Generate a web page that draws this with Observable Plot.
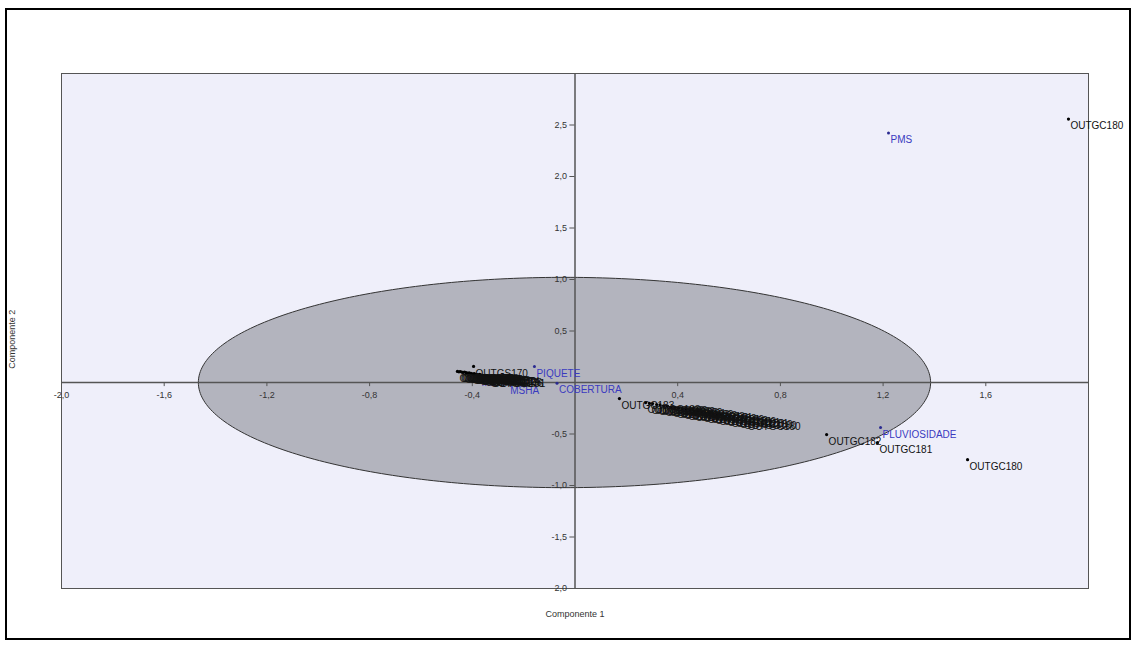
<!DOCTYPE html>
<html>
<head>
<meta charset="utf-8">
<script src="https://cdn.jsdelivr.net/npm/d3@7"></script>
<script src="https://cdn.jsdelivr.net/npm/@observablehq/plot@0.6"></script>
<style>
  html, body { margin: 0; padding: 0; background: #fff; }
  #wrap { position: relative; width: 1136px; height: 648px; overflow: hidden; }
  #border { position: absolute; left: 5px; top: 8px; width: 1122px; height: 628px; border: 2px solid #000; pointer-events: none; }
  svg { display: block; }
</style>
</head>
<body>
<div id="wrap"><div id="border"></div></div>
<script>
// Axis ticks
const xTicks = [-2.0, -1.6, -1.2, -0.8, -0.4, 0.4, 0.8, 1.2, 1.6];
const xTickLabels = ["-2,0", "-1,6", "-1,2", "-0,8", "-0,4", "0,4", "0,8", "1,2", "1,6"];
const yTicks = [2.5, 2.0, 1.5, 1.0, 0.5, -0.5, -1.0, -1.5, -2.0];
const yTickLabels = ["2,5", "2,0", "1,5", "1,0", "0,5", "-0,5", "-1,0", "-1,5", "2,0"];

// Variables (blue)
const varNames = ["MSPA", "PIQUETE", "MSHA", "COBERTURA", "PMS", "PLUVIOSIDADE"];
const varX = [-0.372, -0.158, -0.260, -0.070, 1.221, 1.190];
const varY = [0.068, 0.156, -0.010, -0.007, 2.422, -0.438];

// Observations (black)
const obsNames = [
  "OUTGC180", "OUTGC182", "OUTGC181", "OUTGC180", "OUTGC183", "OUTGS170",
  "OUTGS171", "OUTGS172", "OUTGS173", "OUTGS174", "OUTGS175", "OUTGS176", "OUTGS177",
  "OUTGS178", "OUTGS179", "OUTGS180", "OUTGS181", "OUTGS182", "OUTGS183", "OUTGC170",
  "OUTGC171", "OUTGC172", "OUTGC173", "OUTGC174", "OUTGC175", "OUTGC176", "OUTGC181",
  "OUTGC183", "OUTGC183", "OUTGC182", "OUTGC183", "OUTGC182", "OUTGC183", "OUTGC182",
  "OUTGC181", "OUTGC183", "OUTGC182", "OUTGC182", "OUTGC181", "OUTGC183", "OUTGC182",
  "OUTGC181", "OUTGC182", "OUTGC181", "OUTGC180", "OUTGC182", "OUTGC181", "OUTGC180",
  "OUTGC181", "OUTGC180", "OUTGC181", "OUTGC180", "OUTGC180", "OUTGC180"
];
const obsX = [
  1.922, 0.980, 1.178, 1.529, 0.173, -0.395,
  -0.458, -0.452, -0.447, -0.441, -0.436, -0.430, -0.424,
  -0.418, -0.412, -0.405, -0.398, -0.392, -0.385, -0.378,
  -0.371, -0.364, -0.357, -0.350, -0.343, -0.336, -0.329,
  0.275, 0.290, 0.302, 0.318, 0.331, 0.345, 0.360,
  0.374, 0.389, 0.403, 0.418, 0.433, 0.447, 0.462,
  0.478, 0.493, 0.508, 0.523, 0.538, 0.554, 0.570,
  0.586, 0.602, 0.618, 0.634, 0.650, 0.665
];
const obsY = [
  2.558, -0.506, -0.584, -0.749, -0.156, 0.156,
  0.108, 0.104, 0.107, 0.101, 0.098, 0.102, 0.095,
  0.092, 0.094, 0.088, 0.085, 0.087, 0.080, 0.077,
  0.079, 0.072, 0.068, 0.070, 0.063, 0.058, 0.055,
  -0.195, -0.203, -0.205, -0.214, -0.218, -0.226, -0.229,
  -0.238, -0.242, -0.249, -0.254, -0.262, -0.266, -0.274,
  -0.279, -0.287, -0.292, -0.298, -0.303, -0.311, -0.316,
  -0.323, -0.330, -0.337, -0.343, -0.351, -0.360
];

// Confidence ellipse parameters
const ellipseCenter = [-0.041, 0];
const ellipseRadii = [1.426, 1.021];

const vars = varNames.map((n, i) => ({name: n, x: varX[i], y: varY[i]}));
const obs = obsNames.map((n, i) => ({name: n, x: obsX[i], y: obsY[i]}));
const ellipse = d3.range(0, 360, 1).map(a => {
  const t = a * Math.PI / 180;
  return {x: ellipseCenter[0] + ellipseRadii[0] * Math.cos(t), y: ellipseCenter[1] + ellipseRadii[1] * Math.sin(t)};
});
const xt = xTicks.map((v, i) => ({v, label: xTickLabels[i]}));
const yt = yTicks.map((v, i) => ({v, label: yTickLabels[i]}));

const chart = Plot.plot({
  width: 1136,
  height: 648,
  marginLeft: 61,
  marginRight: 48,
  marginTop: 73,
  marginBottom: 60,
  style: {fontFamily: "'Liberation Sans', Arial, sans-serif", background: "transparent"},
  x: {domain: [-2, 2], axis: null},
  y: {domain: [-2, 3], axis: null},
  marks: [
    Plot.frame({fill: "#efeffa", stroke: "#555", strokeWidth: 1}),
    Plot.line(ellipse, {x: "x", y: "y", curve: "linear-closed", fill: "#b3b4be", stroke: "#333", strokeWidth: 1}),
    Plot.ruleX([0], {stroke: "#555", strokeWidth: 1.5}),
    Plot.ruleY([0], {stroke: "#555", strokeWidth: 1.5}),
    Plot.ruleX(xt, {x: "v", y1: 0, y2: -0.04, stroke: "#555", strokeWidth: 1}),
    Plot.ruleY(yt, {y: "v", x1: -0.02, x2: 0, stroke: "#555", strokeWidth: 1}),
    Plot.text(xt, {x: "v", y: 0, dy: 13, text: "label", fontSize: 9, fill: "#333"}),
    Plot.text(yt, {x: 0, y: "v", dx: -8, text: "label", textAnchor: "end", fontSize: 9, fill: "#333"}),
    Plot.dot(vars, {x: "x", y: "y", r: 1.5, fill: "#2a2a90", stroke: "none"}),
    Plot.text(vars, {x: "x", y: "y", text: "name", dx: 2, dy: 7, textAnchor: "start", fontSize: 10, fill: "#3a3ac0"}),
    Plot.dot(obs, {x: "x", y: "y", r: 1.6, fill: "#000", stroke: "none"}),
    Plot.text(obs, {x: "x", y: "y", text: "name", dx: 2, dy: 7, textAnchor: "start", fontSize: 10, fill: "#111"}),
    Plot.text(["Componente 1"], {frameAnchor: "bottom", dy: 28, fontSize: 9, fill: "#333"}),
    Plot.text(["Componente 2"], {x: -2, y: 0.42, dx: -49, rotate: -90, fontSize: 9, fill: "#333"})
  ]
});
document.getElementById("wrap").prepend(chart);
</script>
</body>
</html>
